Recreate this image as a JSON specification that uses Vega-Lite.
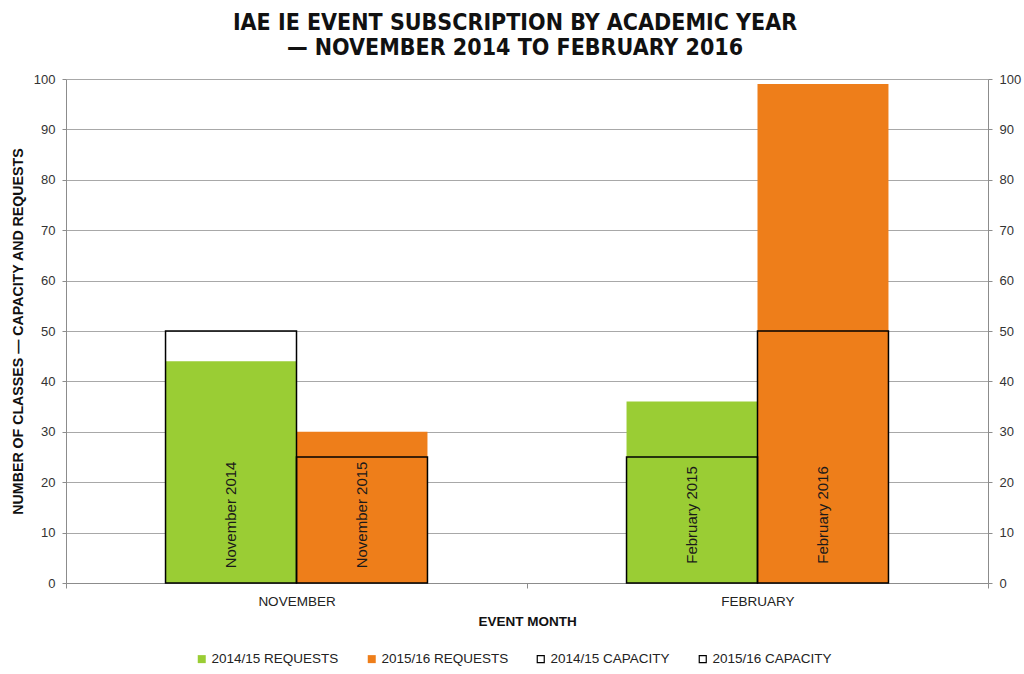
{
  "$schema": "https://vega.github.io/schema/vega-lite/v6.json",
  "width": 922,
  "height": 504,
  "autosize": {"type": "none"},
  "padding": {"left": 66, "top": 79, "right": 36, "bottom": 91},
  "background": "white",
  "title": {
    "text": ["IAE IE EVENT SUBSCRIPTION BY ACADEMIC YEAR", "— NOVEMBER 2014 TO FEBRUARY 2016"],
    "font": "DejaVu Sans Condensed",
    "fontSize": 23,
    "fontWeight": "bold",
    "color": "#111111",
    "lineHeight": 25,
    "anchor": "middle",
    "dx": -12,
    "offset": 13
  },
  "data": {
    "values": [
      {"month": "NOVEMBER", "year": "2014/15", "type": "requests", "series": "2014/15 REQUESTS", "value": 44, "label": "November  2014"},
      {"month": "NOVEMBER", "year": "2015/16", "type": "requests", "series": "2015/16 REQUESTS", "value": 30, "label": "November  2015"},
      {"month": "FEBRUARY", "year": "2014/15", "type": "requests", "series": "2014/15 REQUESTS", "value": 36, "label": "February  2015"},
      {"month": "FEBRUARY", "year": "2015/16", "type": "requests", "series": "2015/16 REQUESTS", "value": 99, "label": "February  2016"},
      {"month": "NOVEMBER", "year": "2014/15", "type": "capacity", "series": "2014/15 CAPACITY", "value": 50, "label": ""},
      {"month": "NOVEMBER", "year": "2015/16", "type": "capacity", "series": "2015/16 CAPACITY", "value": 25, "label": ""},
      {"month": "FEBRUARY", "year": "2014/15", "type": "capacity", "series": "2014/15 CAPACITY", "value": 25, "label": ""},
      {"month": "FEBRUARY", "year": "2015/16", "type": "capacity", "series": "2015/16 CAPACITY", "value": 50, "label": ""}
    ]
  },
  "encoding": {
    "x": {
      "field": "month",
      "type": "nominal",
      "sort": ["NOVEMBER", "FEBRUARY"],
      "scale": {"paddingInner": 0, "paddingOuter": 0},
      "axis": {
        "title": "EVENT MONTH",
        "titleFont": "Liberation Sans",
        "titleFontSize": 13.5,
        "titleFontWeight": "bold",
        "titleColor": "#111111",
        "titlePadding": 7,
        "labelFont": "Liberation Sans",
        "labelFontSize": 13.5,
        "labelColor": "#222222",
        "labelAngle": 0,
        "labelPadding": 6,
        "domainColor": "#8c8c8c",
        "tickColor": "#8c8c8c",
        "tickBand": "extent",
        "tickSize": 5,
        "grid": false
      }
    },
    "xOffset": {
      "field": "year",
      "type": "nominal",
      "sort": ["2014/15", "2015/16"],
      "scale": {"paddingInner": 0, "paddingOuter": 0.76}
    }
  },
  "layer": [
    {
      "transform": [{"filter": "datum.type === 'requests'"}],
      "mark": {"type": "bar", "strokeWidth": 0},
      "encoding": {
        "y": {
          "field": "value",
          "type": "quantitative",
          "stack": null,
          "scale": {"domain": [0, 100], "nice": false},
          "axis": {
            "orient": "left",
            "title": "NUMBER OF CLASSES — CAPACITY AND REQUESTS",
            "titleFont": "Liberation Sans",
            "titleFontSize": 14.2,
            "titleFontWeight": "bold",
            "titleColor": "#111111",
            "titlePadding": 8,
            "values": [0, 10, 20, 30, 40, 50, 60, 70, 80, 90, 100],
            "labelFont": "Liberation Sans",
            "labelFontSize": 13,
            "labelColor": "#333333",
            "labelPadding": 7,
            "tickSize": 4,
            "tickColor": "#8c8c8c",
            "domainColor": "#8c8c8c",
            "grid": true,
            "gridColor": "#a8a8a8",
            "gridWidth": 1
          }
        },
        "fill": {
          "field": "series",
          "type": "nominal",
          "scale": {
            "domain": ["2014/15 REQUESTS", "2015/16 REQUESTS"],
            "range": ["#9acd34", "#ee7e1a"]
          },
          "legend": {
            "title": null,
            "orient": "none",
            "legendX": 129,
            "legendY": 573,
            "direction": "horizontal",
            "symbolType": "square",
            "symbolSize": 64,
            "symbolStrokeWidth": 0,
            "labelFont": "Liberation Sans",
            "labelFontSize": 13.5,
            "labelColor": "#222222",
            "labelOffset": 3,
            "columnPadding": 26
          }
        }
      }
    },
    {
      "transform": [{"filter": "datum.type === 'capacity'"}],
      "mark": {"type": "bar", "filled": false, "fill": "transparent", "strokeWidth": 1.5},
      "encoding": {
        "y": {
          "field": "value",
          "type": "quantitative",
          "stack": null,
          "axis": {
            "orient": "right",
            "title": null,
            "values": [0, 10, 20, 30, 40, 50, 60, 70, 80, 90, 100],
            "labelFont": "Liberation Sans",
            "labelFontSize": 13,
            "labelColor": "#333333",
            "labelPadding": 7,
            "tickSize": 4,
            "tickColor": "#8c8c8c",
            "domainColor": "#8c8c8c",
            "grid": false
          }
        },
        "stroke": {
          "field": "series",
          "type": "nominal",
          "scale": {
            "domain": ["2014/15 CAPACITY", "2015/16 CAPACITY"],
            "range": ["#000000", "#000000"]
          },
          "legend": {
            "title": null,
            "orient": "none",
            "legendX": 468,
            "legendY": 573,
            "direction": "horizontal",
            "symbolType": "square",
            "symbolSize": 49,
            "symbolStrokeWidth": 1.2,
            "symbolFillColor": "white",
            "labelFont": "Liberation Sans",
            "labelFontSize": 13.5,
            "labelColor": "#222222",
            "labelOffset": 3,
            "columnPadding": 26
          }
        }
      }
    },
    {
      "transform": [{"filter": "datum.type === 'requests'"}],
      "mark": {"type": "text", "angle": 270, "align": "center", "baseline": "middle", "font": "Liberation Sans", "fontSize": 15, "color": "#1a1a1a"},
      "encoding": {
        "y": {"datum": 13.5, "type": "quantitative", "axis": null},
        "text": {"field": "label"}
      }
    }
  ],
  "resolve": {"axis": {"y": "independent"}},
  "config": {"view": {"stroke": null}}
}
